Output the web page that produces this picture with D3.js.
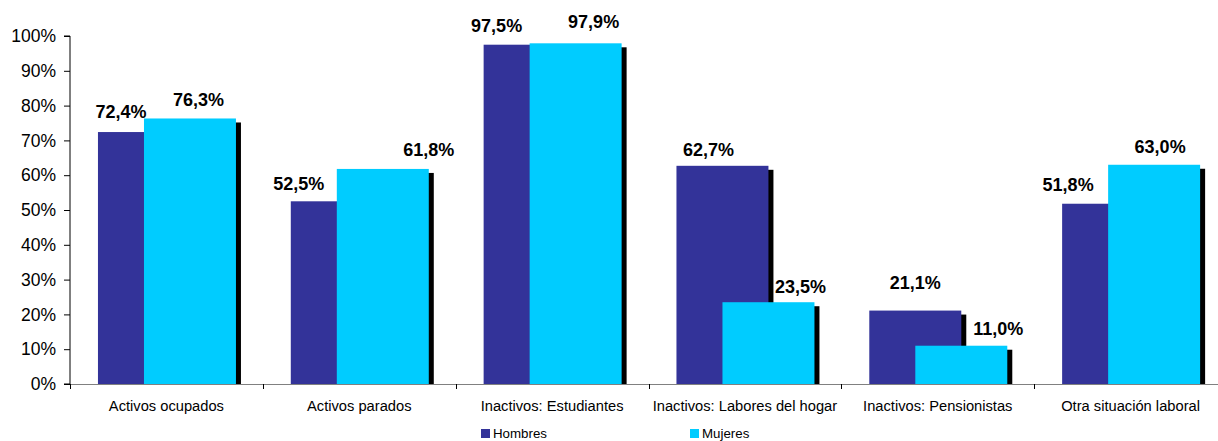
<!DOCTYPE html>
<html>
<head>
<meta charset="utf-8">
<script src="https://cdn.jsdelivr.net/npm/d3@7"></script>
<style>
  html, body { margin: 0; padding: 0; background: #fff; overflow: hidden; }
  svg { display: block; font-family: "Liberation Sans", Arial, sans-serif; }
</style>
</head>
<body>
<svg id="chart" width="1218" height="441"></svg>
<script>
// Situación laboral por sexo (porcentaje)
const categories = [
  "Activos ocupados",
  "Activos parados",
  "Inactivos: Estudiantes",
  "Inactivos: Labores del hogar",
  "Inactivos: Pensionistas",
  "Otra situación laboral"
];
const seriesNames = ["Hombres", "Mujeres"];
const hombres = [72.4, 52.5, 97.5, 62.7, 21.1, 51.8];
const mujeres = [76.3, 61.8, 97.9, 23.5, 11.0, 63.0];
const yTicks = [0, 10, 20, 30, 40, 50, 60, 70, 80, 90, 100];

// Layout
const W = 1218, H = 441;
const plot = { left: 70, right: 1227, top: 36, bottom: 384 };
const colors = ["#333399", "#00CCFF"];
const shadow = { dx: 5, dy: 4 };
// Hand-placed value labels: offset from bar centre (x) and from bar top (y), px
const labelNudge = [
  [[-23, -21], [-38, -17.5], [-33, -19], [-14, -16], [0, -28], [-40, -19]],
  [[8.5, -19], [46, -19], [18, -22], [32, -16], [37, -17], [6, -18]]
];

const svg = d3.select("#chart");

const x = d3.scaleBand().domain(categories).range([plot.left, plot.right]).padding(0);
const y = d3.scaleLinear().domain([0, 100]).range([plot.bottom, plot.top]);

const bw = x.bandwidth();
const barW = bw * 0.477;
const barStart = bw * 0.145;
const barStep = bw * 0.2386;

const fmt = v => d3.format(".1f")(v).replace(".", ",") + "%";

const series = [hombres, mujeres];

// Bars: each series draws its drop shadow then its bar, so later series overlap earlier ones
series.forEach((vals, si) => {
  const g = svg.append("g").attr("class", "series-" + si);
  const data = categories.map((c, i) => ({ c, v: vals[i] }));
  g.selectAll("rect.shadow").data(data).join("rect")
    .attr("class", "shadow")
    .attr("x", d => x(d.c) + barStart + si * barStep + shadow.dx)
    .attr("y", d => y(d.v) + shadow.dy)
    .attr("width", barW)
    .attr("height", d => Math.max(0, y(0) - y(d.v) - shadow.dy))
    .attr("fill", "#000");
  g.selectAll("rect.bar").data(data).join("rect")
    .attr("class", "bar")
    .attr("x", d => x(d.c) + barStart + si * barStep)
    .attr("y", d => y(d.v))
    .attr("width", barW)
    .attr("height", d => y(0) - y(d.v))
    .attr("fill", colors[si]);
});

// Y axis
const yAxis = d3.axisLeft(y).tickValues(yTicks).tickSize(6).tickPadding(8)
  .tickFormat(d => d + "%");
const yg = svg.append("g").attr("transform", `translate(${plot.left},0)`).call(yAxis);
yg.select(".domain").attr("stroke", "#000").attr("d", `M-6,${plot.top}H0V${plot.bottom}H-6`);
yg.selectAll(".tick line").attr("stroke", "#000");
yg.selectAll(".tick text")
  .attr("font-size", 17.5)
  .attr("fill", "#000")
  .attr("font-family", "Liberation Sans, Arial, sans-serif");

// X axis baseline and category separators
const xg = svg.append("g");
xg.append("line")
  .attr("x1", plot.left).attr("x2", plot.right)
  .attr("y1", plot.bottom + 0.5).attr("y2", plot.bottom + 0.5)
  .attr("stroke", "#808080").attr("stroke-width", 1);
const bounds = categories.map(c => x(c)).concat([x(categories[categories.length - 1]) + bw]);
xg.selectAll("line.sep").data(bounds).join("line")
  .attr("class", "sep")
  .attr("x1", d => Math.round(d) + 0.5).attr("x2", d => Math.round(d) + 0.5)
  .attr("y1", plot.bottom).attr("y2", plot.bottom + 5)
  .attr("stroke", "#000");
xg.selectAll("text.cat").data(categories).join("text")
  .attr("class", "cat")
  .attr("x", d => x(d) + bw / 2)
  .attr("y", 411)
  .attr("text-anchor", "middle")
  .attr("font-size", 14.7)
  .attr("fill", "#000")
  .text(d => d);

// Value labels
series.forEach((vals, si) => {
  svg.append("g").selectAll("text").data(vals).join("text")
    .attr("x", (v, i) => x(categories[i]) + barStart + si * barStep + barW / 2 + labelNudge[si][i][0])
    .attr("y", (v, i) => y(v) + labelNudge[si][i][1])
    .attr("dy", "0.36em")
    .attr("text-anchor", "middle")
    .attr("font-size", 18)
    .attr("font-weight", "bold")
    .attr("fill", "#000")
    .text(v => fmt(v));
});

// Legend
const legendX = [481, 690];
const lg = svg.append("g");
seriesNames.forEach((name, i) => {
  lg.append("rect")
    .attr("x", legendX[i]).attr("y", 429)
    .attr("width", 9).attr("height", 9)
    .attr("fill", colors[i]);
  lg.append("text")
    .attr("x", legendX[i] + 12).attr("y", 437.5)
    .attr("font-size", 13.3)
    .attr("fill", "#000")
    .text(name);
});
</script>
</body>
</html>
